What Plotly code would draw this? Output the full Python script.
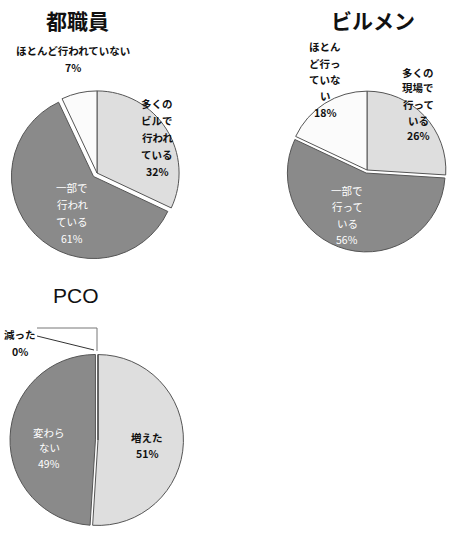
import plotly.graph_objects as go

# ---- data ----
titles = ["都職員", "ビルメン", "PCO"]

labels_1 = ["多くの<br>ビルで<br>行われ<br>ている", "一部で<br>行われ<br>ている", "ほとんど行われていない"]
values_1 = [32, 61, 7]

labels_2 = ["多くの<br>現場で<br>行って<br>いる", "一部で<br>行って<br>いる", "ほとん<br>ど行っ<br>ていな<br>い"]
values_2 = [26, 56, 18]

labels_3 = ["増えた", "変わら<br>ない", "減った"]
values_3 = [51, 49, 0]

colors = ["#dedede", "#8a8a8a", "#fbfbfb"]
text_colors = ["#111111", "#ffffff", "#111111"]
FONT = "Noto Sans CJK JP"
W, H = 449, 534


def dom(x0, x1, y0, y1):
    return dict(x=[x0 / W, x1 / W], y=[1 - y1 / H, 1 - y0 / H])


def px(x, y):
    return x / W, 1 - y / H


fig = go.Figure()

pies = [
    (labels_1, values_1, [0, 0.06, 0], dom(10, 184, 86, 260)),
    (labels_2, values_2, [0, 0.04, 0], dom(285, 449, 82, 258)),
    (labels_3, values_3, [0, 0.03, 0], dom(10, 186, 350, 530)),
]
for labs, vals, pull, d in pies:
    fig.add_trace(go.Pie(
        labels=labs, values=vals, sort=False, direction="clockwise", rotation=0,
        marker=dict(colors=colors, line=dict(color="#555555", width=1)),
        pull=pull, textinfo="none", domain=d, showlegend=False, hoverinfo="skip",
    ))

annotations = []


def add_label(text, cx, y0, step, color, size=10.5, bold=True):
    lines = text.split("<br>")
    for i, ln in enumerate(lines):
        x, y = px(cx, y0 + i * step)
        annotations.append(dict(
            text=f"<b>{ln}</b>" if bold else ln, x=x, y=y,
            font=dict(family=FONT, size=size, color=color),
        ))


# titles
for t, (cx, cy), fam, b in zip(titles, [(77, 20), (373, 20), (76, 295)],
                               [FONT, FONT, "Liberation Sans"], [True, True, False]):
    x, y = px(cx, cy)
    annotations.append(dict(text=f"<b>{t}</b>" if b else t, x=x, y=y,
                            font=dict(family=fam, size=21, color="#111")))

# 都職員 labels
add_label(f"{labels_1[0]}<br>{values_1[0]}%", 157, 103, 17, text_colors[0])
add_label(f"{labels_1[1]}<br>{values_1[1]}%", 72, 187, 17, text_colors[1], bold=False)
add_label(f"{labels_1[2]}<br>{values_1[2]}%", 73, 50, 18, text_colors[2])

# ビルメン labels
add_label(f"{labels_2[0]}<br>{values_2[0]}%", 418, 72, 16, text_colors[0])
add_label(f"{labels_2[1]}<br>{values_2[1]}%", 347, 190, 16.5, text_colors[1], bold=False)
add_label(f"{labels_2[2]}<br>{values_2[2]}%", 325, 47, 16.3, text_colors[2])

# PCO labels
add_label(f"{labels_3[0]}<br>{values_3[0]}%", 147, 437, 16, text_colors[0])
add_label(f"{labels_3[1]}<br>{values_3[1]}%", 49, 432, 15.5, text_colors[1], bold=False)
add_label(f"{labels_3[2]}<br>{values_3[2]}%", 20, 334, 18, text_colors[2])

for a in annotations:
    a.update(xref="paper", yref="paper", showarrow=False, xanchor="center", yanchor="middle")

# callout for the 0% slice of PCO
shapes = [
    dict(type="line", xref="paper", yref="paper", x0=37 / W, y0=1 - 328 / H, x1=97 / W, y1=1 - 328 / H,
         line=dict(color="#777", width=1)),
    dict(type="line", xref="paper", yref="paper", x0=97 / W, y0=1 - 328 / H, x1=97 / W, y1=1 - 351 / H,
         line=dict(color="#777", width=1)),
    dict(type="line", xref="paper", yref="paper", x0=37 / W, y0=1 - 336 / H, x1=94 / W, y1=1 - 350 / H,
         line=dict(color="#333", width=1)),
]

fig.update_layout(
    width=W, height=H, margin=dict(l=0, r=0, t=0, b=0),
    paper_bgcolor="white", plot_bgcolor="white",
    annotations=annotations, shapes=shapes,
)

fig.write_html("out.html")
